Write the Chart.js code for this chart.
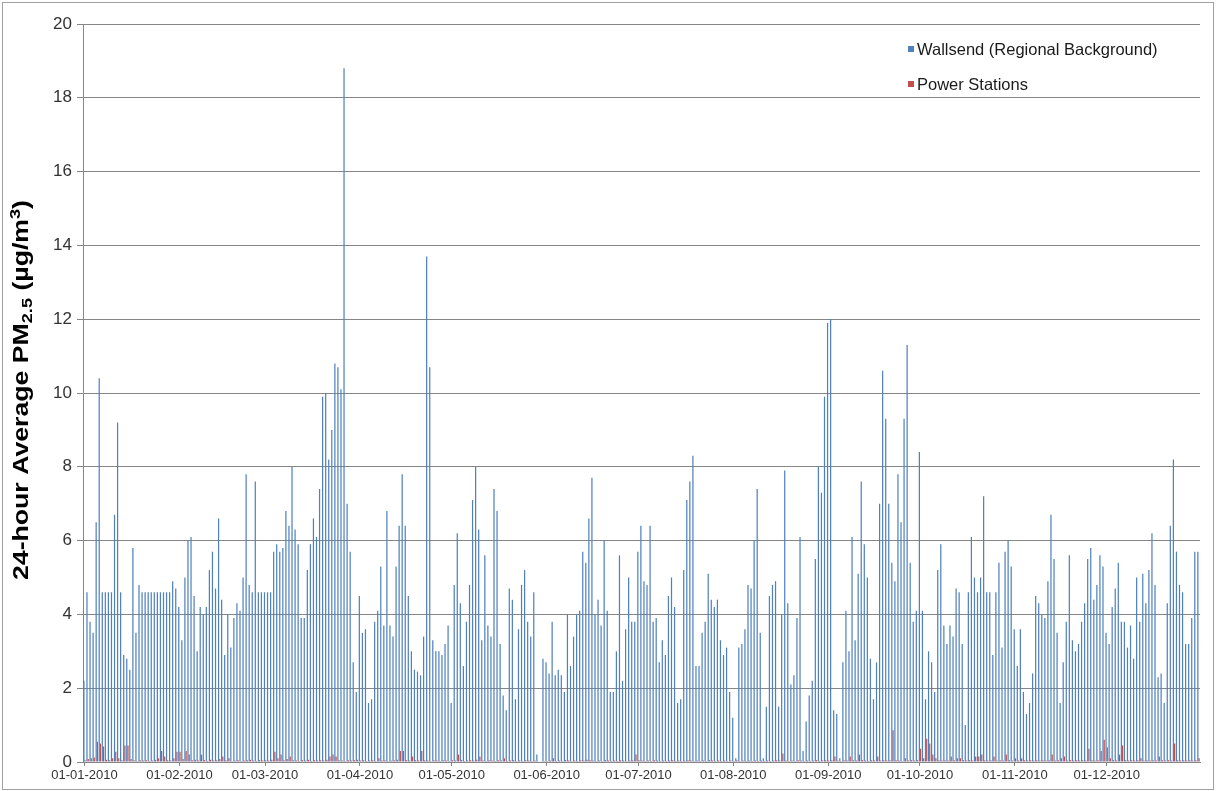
<!DOCTYPE html>
<html>
<head>
<meta charset="utf-8">
<script src="https://cdn.jsdelivr.net/npm/chart.js@4.4.0/dist/chart.umd.min.js"></script>
<style>
  html, body { margin: 0; padding: 0; background: #ffffff; }
  #wrap { position: relative; width: 1216px; height: 791px; }
  canvas { display: block; }
</style>
</head>
<body>
<div id="wrap"><canvas id="pmChart" width="1216" height="791"></canvas></div>
<script>
// Daily 24-hour average PM2.5 (µg/m³), 2010 — one line per month
const wallsend = [
  /* Jan */ 2.2,4.6,3.8,3.5,6.5,10.4,4.6,4.6,4.6,4.6,6.7,9.2,4.6,2.9,2.8,2.5,5.8,3.5,4.8,4.6,4.6,4.6,4.6,4.6,4.6,4.6,4.6,4.6,4.6,4.9,4.7,
  /* Feb */ 4.2,3.3,5.0,6.0,6.1,4.5,3.0,4.2,4.0,4.2,5.2,5.7,4.7,6.6,4.4,2.9,4.0,3.1,3.9,4.3,4.1,5.0,7.8,4.8,4.6,7.6,4.6,4.6,
  /* Mar */ 4.6,4.6,4.6,5.7,5.9,5.7,5.8,6.8,6.4,8.0,6.3,5.9,3.9,3.9,5.2,5.9,6.6,6.1,7.4,9.9,10.0,8.2,9.0,10.8,10.7,10.1,18.8,7.0,5.7,2.7,1.9,
  /* Apr */ 4.5,3.5,3.6,1.6,1.7,3.8,4.1,5.3,3.7,6.8,3.7,3.4,5.3,6.4,7.8,6.4,4.5,3.0,2.5,2.45,2.35,3.4,13.7,10.7,3.3,3.0,3.0,2.9,3.2,3.7,
  /* May */ 1.6,4.8,6.2,4.3,2.6,3.8,4.8,7.1,8.0,6.3,3.3,5.6,3.7,3.4,7.4,6.8,3.2,1.8,1.4,4.7,4.4,1.7,3.6,4.8,5.2,3.8,3.4,4.6,0.2,0,2.8,
  /* Jun */ 2.7,2.4,3.8,2.35,2.5,2.35,1.9,4.0,2.6,3.4,4.0,4.1,5.7,5.4,6.6,7.7,4.0,4.4,3.7,6.0,4.1,1.9,1.9,3.0,5.6,2.2,3.6,5.0,3.8,3.8,
  /* Jul */ 5.7,6.4,4.9,4.8,6.4,3.8,3.9,2.7,3.3,2.9,4.5,5.0,4.2,1.6,1.7,5.2,7.1,7.6,8.3,2.6,2.6,3.5,3.8,5.1,4.4,4.2,4.4,3.3,2.9,3.1,1.9,
  /* Aug */ 1.2,0.1,3.1,3.2,3.6,4.8,4.7,6.0,7.4,3.5,0.1,1.5,4.5,4.8,4.9,1.5,4.0,7.9,4.3,2.1,2.35,3.9,6.1,0.3,1.1,1.8,2.2,5.5,8.0,7.3,9.9,
  /* Sep */ 11.9,12.0,1.4,1.3,0.1,2.7,4.1,3.0,6.1,3.3,5.1,7.6,5.9,5.0,2.8,1.7,2.7,7.0,10.6,9.3,7.0,5.4,4.9,7.8,6.5,9.3,11.3,5.4,3.8,4.1,
  /* Oct */ 8.4,4.1,1.7,3.0,2.7,1.9,5.2,5.9,3.7,3.2,3.7,3.4,4.7,4.6,3.2,1.0,4.6,6.1,5.0,4.6,5.0,7.2,4.6,4.6,2.9,4.6,5.4,3.1,5.7,6.0,5.3,
  /* Nov */ 3.6,2.6,3.6,1.9,1.3,1.6,2.4,4.5,4.3,4.0,3.9,4.9,6.7,5.5,3.5,1.6,2.7,3.8,5.6,3.3,3.0,3.2,3.8,4.3,5.5,5.8,4.4,4.8,5.6,5.3,
  /* Dec */ 3.5,3.2,4.2,4.7,5.4,3.8,3.8,3.1,3.7,2.8,5.0,3.8,5.1,4.3,5.2,6.2,4.8,2.3,2.4,1.6,4.3,6.4,8.2,5.7,4.8,4.6,3.2,3.2,3.9,5.7,5.7
];

const powerStations = [
  /* Jan */ 0.05,0.08,0.1,0.12,0.55,0.5,0.42,0.06,0.05,0.1,0.28,0.1,0.05,0.45,0.45,0.08,0.05,0.03,0.05,0.04,0.05,0.03,0.04,0.06,0.1,0.3,0.15,0.05,0.04,0.1,0.28,
  /* Feb */ 0.28,0.08,0.3,0.2,0.05,0.06,0.04,0.2,0.05,0.03,0.06,0.04,0.05,0.08,0.15,0.05,0.1,0.03,0.04,0.05,0.03,0.04,0.05,0.06,0.04,0.03,0.05,0.04,
  /* Mar */ 0.05,0.04,0.06,0.28,0.1,0.2,0.05,0.08,0.15,0.05,0.04,0.03,0.05,0.04,0.06,0.03,0.05,0.04,0.05,0.04,0.06,0.15,0.2,0.15,0.05,0.04,0.03,0.05,0.04,0.05,0.06,
  /* Apr */ 0.04,0.05,0.03,0.04,0.05,0.03,0.1,0.04,0.05,0.03,0.04,0.05,0.06,0.3,0.3,0.05,0.04,0.15,0.05,0.04,0.3,0.05,0.04,0.03,0.05,0.04,0.03,0.05,0.04,0.03,
  /* May */ 0.05,0.04,0.2,0.05,0.03,0.04,0.05,0.04,0.06,0.15,0.04,0.03,0.05,0.04,0.03,0.05,0.04,0.1,0.03,0.04,0.05,0.03,0.04,0.03,0.05,0.04,0.03,0.04,0.02,0.02,0.03,
  /* Jun */ 0.03,0.04,0.1,0.03,0.04,0.03,0.05,0.04,0.03,0.04,0.03,0.05,0.04,0.06,0.05,0.04,0.03,0.04,0.03,0.05,0.04,0.03,0.04,0.03,0.05,0.04,0.03,0.04,0.05,0.2,
  /* Jul */ 0.05,0.04,0.03,0.04,0.03,0.05,0.04,0.03,0.04,0.03,0.04,0.05,0.03,0.04,0.03,0.04,0.05,0.04,0.03,0.04,0.03,0.04,0.03,0.05,0.04,0.03,0.04,0.03,0.04,0.03,0.04,
  /* Aug */ 0.03,0.05,0.03,0.04,0.03,0.04,0.03,0.04,0.03,0.04,0.03,0.04,0.03,0.04,0.05,0.04,0.23,0.04,0.03,0.04,0.03,0.05,0.04,0.03,0.04,0.03,0.04,0.05,0.03,0.04,0.05,
  /* Sep */ 0.04,0.05,0.15,0.04,0.03,0.05,0.04,0.15,0.05,0.04,0.2,0.05,0.04,0.03,0.05,0.04,0.15,0.04,0.05,0.04,0.05,0.86,0.05,0.04,0.03,0.1,0.04,0.05,0.04,0.05,
  /* Oct */ 0.36,0.1,0.63,0.5,0.2,0.1,0.05,0.04,0.05,0.04,0.15,0.05,0.1,0.1,0.05,0.04,0.05,0.04,0.15,0.15,0.2,0.05,0.04,0.05,0.15,0.04,0.05,0.04,0.2,0.05,0.04,
  /* Nov */ 0.1,0.04,0.1,0.05,0.04,0.05,0.04,0.05,0.04,0.05,0.04,0.05,0.2,0.04,0.05,0.1,0.15,0.04,0.05,0.04,0.05,0.04,0.05,0.04,0.36,0.05,0.04,0.05,0.3,0.6,
  /* Dec */ 0.4,0.1,0.05,0.04,0.2,0.45,0.05,0.04,0.05,0.04,0.05,0.1,0.04,0.05,0.04,0.05,0.04,0.15,0.05,0.04,0.05,0.04,0.5,0.05,0.04,0.05,0.04,0.05,0.04,0.05,0.1
];

// Month-start dates that carry an axis label
const monthTicks = [
  '01-01-2010','01-02-2010','01-03-2010','01-04-2010','01-05-2010','01-06-2010',
  '01-07-2010','01-08-2010','01-09-2010','01-10-2010','01-11-2010','01-12-2010'
];
const yTicks = [0, 2, 4, 6, 8, 10, 12, 14, 16, 18, 20];
const seriesNames = ['Wallsend (Regional Background)', 'Power Stations'];
const seriesColors = ['#4F81BD', '#C0504D'];

// One category per calendar day, dd-mm-2010
const daysInMonth = [31, 28, 31, 30, 31, 30, 31, 31, 30, 31, 30, 31];
const pad = n => String(n).padStart(2, '0');
const days = [];
daysInMonth.forEach((count, m) => {
  for (let d = 1; d <= count; d++) days.push(pad(d) + '-' + pad(m + 1) + '-2010');
});

const AXIS_GREY = '#868686';
const TEXT = '#333333';

// Rotated y-axis title with subscript / superscript runs, fitted to a set length
const yTitlePlugin = {
  id: 'yTitle',
  afterDraw(chart) {
    const c = chart.ctx;
    const runs = [
      { t: '24-hour Average PM', size: 22, dy: 0 },
      { t: '2.5', size: 15, dy: 4 },
      { t: ' (µg/m', size: 22, dy: 0 },
      { t: '3', size: 15, dy: -8 },
      { t: ')', size: 22, dy: 0 }
    ];
    const fam = '"Liberation Sans", Arial, sans-serif';
    const titleLength = 380, centreY = 390, baselineX = 28;
    c.save();
    let total = 0;
    runs.forEach(r => { c.font = 'bold ' + r.size + 'px ' + fam; r.w = c.measureText(r.t).width; total += r.w; });
    c.translate(baselineX, centreY);
    c.rotate(-Math.PI / 2);
    c.scale(titleLength / total, 1);
    c.fillStyle = '#000000';
    c.textBaseline = 'alphabetic';
    c.textAlign = 'left';
    let x = -total / 2;
    runs.forEach(r => { c.font = 'bold ' + r.size + 'px ' + fam; c.fillText(r.t, x, r.dy); x += r.w; });
    c.restore();
  }
};

// Legend in the upper right of the plot
const legendPlugin = {
  id: 'cornerLegend',
  afterDraw(chart) {
    const c = chart.ctx;
    c.save();
    c.font = '16.5px "Liberation Sans", Arial, sans-serif';
    c.textBaseline = 'middle';
    c.textAlign = 'left';
    const rows = [49, 84];
    seriesNames.forEach((name, i) => {
      c.fillStyle = seriesColors[i];
      c.fillRect(908, rows[i] - 3, 6, 6);
      c.fillStyle = '#1a1a1a';
      c.fillText(name, 917, rows[i] + 1);
    });
    c.restore();
  }
};

// Outer chart frame
const framePlugin = {
  id: 'frame',
  afterDraw(chart) {
    const c = chart.ctx;
    c.save();
    c.strokeStyle = '#a0a0a0';
    c.lineWidth = 1;
    c.strokeRect(2.5, 2.5, chart.width - 5, chart.height - 4);
    c.restore();
  }
};

new Chart(document.getElementById('pmChart'), {
  type: 'bar',
  data: {
    labels: days,
    datasets: [
      { label: seriesNames[0], data: wallsend, backgroundColor: seriesColors[0], categoryPercentage: 0.8, barPercentage: 1.0 },
      { label: seriesNames[1], data: powerStations, backgroundColor: seriesColors[1], categoryPercentage: 0.8, barPercentage: 1.0 }
    ]
  },
  options: {
    responsive: false,
    animation: false,
    layout: { padding: { left: 0, top: 24, right: 16, bottom: 0 } },
    plugins: { legend: { display: false }, tooltip: { enabled: false } },
    scales: {
      x: {
        grid: { display: true, drawOnChartArea: false, drawTicks: true, tickLength: 4, color: AXIS_GREY, offset: false },
        border: { display: true, color: AXIS_GREY },
        afterBuildTicks(scale) {
          scale.ticks = scale.ticks.filter(t => monthTicks.includes(days[t.value]));
        },
        ticks: {
          autoSkip: false, maxRotation: 0, minRotation: 0, padding: 2,
          color: TEXT,
          font: { family: '"Liberation Sans", Arial, sans-serif', size: 13 },
          callback(value) { return days[value]; }
        },
        afterFit(scale) { scale.height = 29; }
      },
      y: {
        min: 0, max: 20,
        afterBuildTicks(scale) { scale.ticks = yTicks.map(v => ({ value: v })); },
        grid: { color: AXIS_GREY, tickLength: 6, lineWidth: 1 },
        border: { display: true, color: AXIS_GREY },
        ticks: {
          padding: 5, color: TEXT,
          font: { family: '"Liberation Sans", Arial, sans-serif', size: 17 }
        },
        afterFit(scale) { scale.width = 83; }
      }
    }
  },
  plugins: [yTitlePlugin, legendPlugin, framePlugin]
});
</script>
</body>
</html>
